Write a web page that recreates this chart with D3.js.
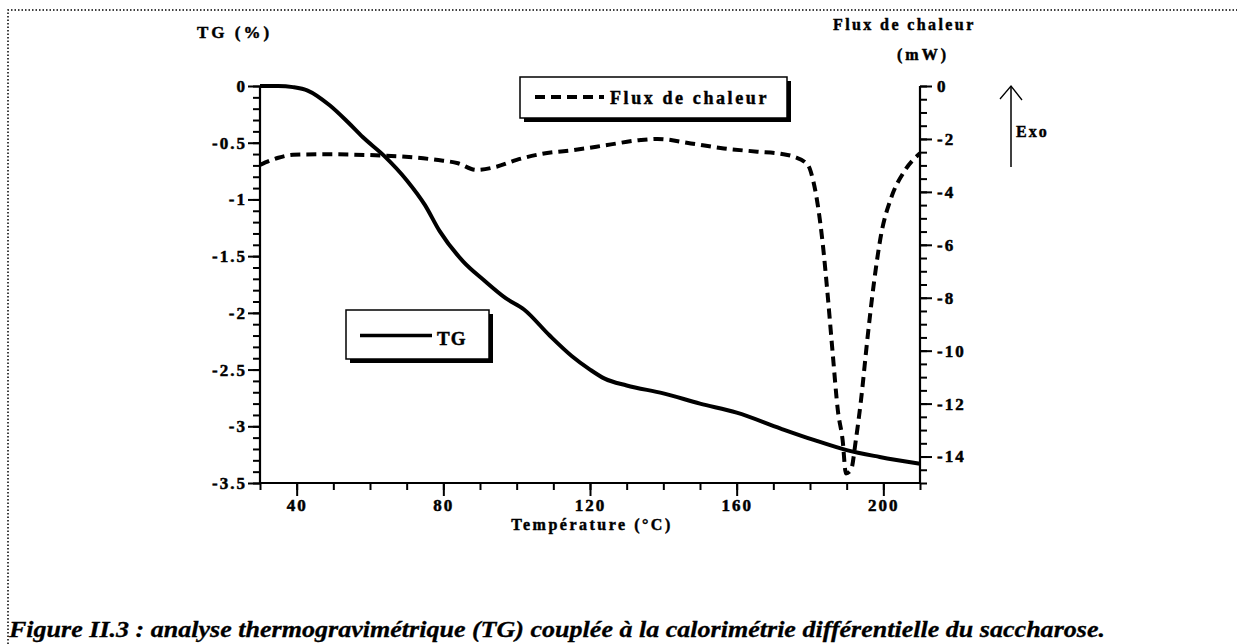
<!DOCTYPE html>
<html>
<head>
<meta charset="utf-8">
<script src="https://cdn.jsdelivr.net/npm/d3@7"></script>
<style>
  html, body { margin: 0; padding: 0; background: #fff; }
  svg text { font-family: "Liberation Serif", "Times New Roman", serif; font-weight: bold; fill: #000; stroke: #000; stroke-width: 0.45px; }
</style>
</head>
<body>
<svg id="svg" width="1237" height="644"></svg>
<script>
// TG curve (% mass loss) vs temperature
const tgTemp = [30, 35, 39, 43, 49, 54, 58, 64, 70, 75, 79, 85.5, 91, 97, 102, 109, 115, 120, 124, 130, 140, 150, 160, 172, 181, 190, 199, 210];
const tgVal  = [0, 0, -0.01, -0.04, -0.17, -0.32, -0.45, -0.62, -0.83, -1.05, -1.28, -1.55, -1.71, -1.87, -1.97, -2.2, -2.38, -2.5, -2.58, -2.64, -2.71, -2.8, -2.88, -3.02, -3.12, -3.21, -3.27, -3.33];

// heat flow (mW) vs temperature
const fluxTemp = [30, 35, 39, 47, 64, 78, 84, 89, 94.5, 100, 107, 115.5, 124.7, 133.8, 138.4, 147.5, 156.5, 165.6, 172, 175.6, 179.4, 180.7, 182.1, 183.5, 184.8, 186.2, 187.6, 188.9, 189.8, 191.2, 192.5, 193.9, 195.7, 197.5, 199.4, 202.1, 205.7, 210];
const fluxVal  = [-2.98, -2.71, -2.6, -2.58, -2.63, -2.79, -2.92, -3.17, -3.05, -2.79, -2.56, -2.42, -2.23, -2.04, -2.0, -2.17, -2.36, -2.48, -2.56, -2.67, -2.98, -3.48, -4.48, -5.99, -7.87, -10.12, -12.26, -13.38, -14.64, -14.5, -13.38, -11.88, -9.5, -7.37, -5.61, -4.24, -3.23, -2.54];

// ticks
const xMajor = [40, 80, 120, 160, 200];
const xMinor = d3.range(30, 211, 10);
const leftMajor = [0, -0.5, -1, -1.5, -2, -2.5, -3, -3.5];
const leftMinor = d3.range(0, -3.51, -0.1);
const rightMajor = [0, -2, -4, -6, -8, -10, -12, -14];
const rightMinor = d3.range(0, -15.01, -0.5);

const svg = d3.select("#svg");

const x = d3.scaleLinear().domain([30, 210]).range([260, 920]);
const yL = d3.scaleLinear().domain([-3.5, 0]).range([483, 86]);
const yR = d3.scaleLinear().domain([-15, 0]).range([483, 86]);

// dotted frame of the figure
svg.append("path")
    .attr("d", "M8,644 L8,10 L1237,10")
    .style("fill", "none")
    .style("stroke", "#000")
    .style("stroke-width", 1.5)
    .style("stroke-dasharray", "1.5,2");

// axes
const left = svg.append("g").attr("transform", "translate(260,0)");
left.call(d3.axisLeft(yL).tickValues(leftMinor).tickSize(7).tickFormat(""));
left.call(g => g.append("g").call(d3.axisLeft(yL).tickValues(leftMajor).tickSize(12).tickPadding(1).tickFormat(d => String(d))));

const right = svg.append("g").attr("transform", "translate(920,0)");
right.call(d3.axisRight(yR).tickValues(rightMinor).tickSize(7).tickFormat(""));
right.call(g => g.append("g").call(d3.axisRight(yR).tickValues(rightMajor).tickSize(12).tickPadding(5).tickFormat(d => String(d))));

const bottom = svg.append("g").attr("transform", "translate(0,483)");
bottom.call(d3.axisBottom(x).tickValues(xMinor).tickSize(7).tickFormat(""));
bottom.call(g => g.append("g").call(d3.axisBottom(x).tickValues(xMajor).tickSize(13).tickPadding(3).tickFormat(d => String(d))));

svg.selectAll(".domain").attr("d", null);
svg.selectAll(".tick line").style("stroke", "#000").style("stroke-width", 2);
svg.selectAll(".tick text")
    .style("font-family", "'Liberation Serif', serif")
    .style("font-weight", "bold")
    .style("font-size", "17px")
    .style("letter-spacing", "2px")
    .style("stroke", "#000")
    .style("stroke-width", 0.5);

// axis lines
svg.append("line").attr("x1", 260).attr("x2", 260).attr("y1", yL(0)).attr("y2", yL(-3.5))
    .style("stroke", "#000").style("stroke-width", 2.2);
svg.append("line").attr("x1", 920).attr("x2", 920).attr("y1", yR(0)).attr("y2", yR(-15))
    .style("stroke", "#000").style("stroke-width", 2.2);
svg.append("line").attr("x1", x(30)).attr("x2", x(210)).attr("y1", 483).attr("y2", 483)
    .style("stroke", "#000").style("stroke-width", 2.2);

// curves
const tgLine = d3.line()
    .x((d, i) => x(tgTemp[i]))
    .y(d => yL(d))
    .curve(d3.curveMonotoneX);

const fluxLine = d3.line()
    .x((d, i) => x(fluxTemp[i]))
    .y(d => yR(d))
    .curve(d3.curveMonotoneX);

svg.append("path")
    .attr("d", fluxLine(fluxVal))
    .style("fill", "none")
    .style("stroke", "#000")
    .style("stroke-width", 4)
    .style("stroke-dasharray", "10,6");

svg.append("path")
    .attr("d", tgLine(tgVal))
    .style("fill", "none")
    .style("stroke", "#000")
    .style("stroke-width", 4)
    .style("stroke-linejoin", "round");

// axis titles
svg.append("text").attr("x", 197).attr("y", 38).style("font-size", "17px").style("letter-spacing", "3px").text("TG (%)");
svg.append("text").attr("x", 833).attr("y", 30).style("font-size", "16px").style("letter-spacing", "2.4px").text("Flux de chaleur");
svg.append("text").attr("x", 923).attr("y", 60).attr("text-anchor", "middle").style("font-size", "16px").style("letter-spacing", "3px").text("(mW)");
svg.append("text").attr("x", 592).attr("y", 530).attr("text-anchor", "middle").style("font-size", "16px").style("letter-spacing", "2.5px").text("Température (°C)");

// Exo arrow
svg.append("line").attr("x1", 1011).attr("x2", 1011).attr("y1", 86).attr("y2", 167)
    .style("stroke", "#000").style("stroke-width", 1.5);
svg.append("path").attr("d", "M1000,99 L1011,86 L1022,100")
    .style("fill", "none").style("stroke", "#000").style("stroke-width", 1.3);
svg.append("text").attr("x", 1016).attr("y", 137).style("font-size", "16px").style("letter-spacing", "2px").text("Exo");

// legends with drop shadow
function legendBox(bx, by, bw, bh) {
    svg.append("rect").attr("x", bx + 4).attr("y", by + 4).attr("width", bw).attr("height", bh)
        .style("fill", "#000");
    svg.append("rect").attr("x", bx).attr("y", by).attr("width", bw).attr("height", bh)
        .style("fill", "#fff").style("stroke", "#000").style("stroke-width", 1.5);
}

legendBox(520, 77, 267, 41);
svg.append("line").attr("x1", 535).attr("x2", 604).attr("y1", 97).attr("y2", 97)
    .style("stroke", "#000").style("stroke-width", 4).style("stroke-dasharray", "10,6");
svg.append("text").attr("x", 610).attr("y", 104).style("font-size", "18px").style("letter-spacing", "2.6px").text("Flux de chaleur");

legendBox(346, 310, 143, 49);
svg.append("line").attr("x1", 360).attr("x2", 432).attr("y1", 335.5).attr("y2", 335.5)
    .style("stroke", "#000").style("stroke-width", 3.5);
svg.append("text").attr("x", 437).attr("y", 345).style("font-size", "19px").style("letter-spacing", "1px").text("TG");

// caption
const cap = svg.append("text")
    .attr("x", 9).attr("y", 637)
    .style("font-family", "'Liberation Serif', serif")
    .style("font-style", "italic")
    .style("font-weight", "bold")
    .style("font-size", "24px")
    .style("stroke-width", 0.3)
    .text("Figure II.3 : analyse thermogravimétrique (TG) couplée à la calorimétrie différentielle du saccharose.");
const capW = cap.node().getComputedTextLength();
if (Math.abs(capW - 1096) > 4) cap.attr("textLength", 1096).attr("lengthAdjust", "spacingAndGlyphs");
</script>
</body>
</html>
